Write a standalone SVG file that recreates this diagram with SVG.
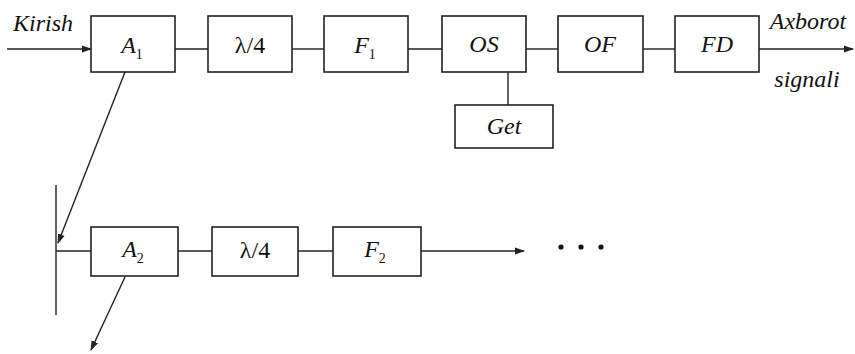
<svg xmlns="http://www.w3.org/2000/svg" width="855" height="354" viewBox="0 0 855 354">
<style>
.b{fill:none;stroke:#222;stroke-width:1.6}
.l{fill:none;stroke:#222;stroke-width:1.4}
text{font-family:'Liberation Serif','Times New Roman',serif;font-style:italic;font-size:24px;fill:#111;text-anchor:middle}
.u{font-style:normal}
.s{font-size:14px;font-style:normal}
</style>
<defs>
<marker id="ar" markerWidth="10" markerHeight="8" refX="9" refY="4" orient="auto" markerUnits="userSpaceOnUse">
<path d="M0,0.5 L10,4 L0,7.5 Z" fill="#222"/>
</marker>
</defs>
<rect width="855" height="354" fill="#fff"/>
<g id="connectors">
<line class="l" x1="7" y1="49" x2="91" y2="49" marker-end="url(#ar)"/>
<line class="l" x1="175" y1="49" x2="208" y2="49"/>
<line class="l" x1="292" y1="49" x2="324" y2="49"/>
<line class="l" x1="408" y1="49" x2="442" y2="49"/>
<line class="l" x1="526" y1="49" x2="558" y2="49"/>
<line class="l" x1="643" y1="49" x2="675" y2="49"/>
<line class="l" x1="759" y1="49" x2="853" y2="49" marker-end="url(#ar)"/>
<line class="l" x1="508" y1="72" x2="508" y2="105"/>
<line class="l" x1="125" y1="72" x2="58" y2="243" marker-end="url(#ar)"/>
<line class="l" x1="56" y1="185" x2="56" y2="315"/>
<line class="l" x1="56" y1="251" x2="91" y2="251"/>
<line class="l" x1="178" y1="251" x2="212" y2="251"/>
<line class="l" x1="298" y1="251" x2="333" y2="251"/>
<line class="l" x1="421" y1="251" x2="524" y2="251" marker-end="url(#ar)"/>
<line class="l" x1="125" y1="277" x2="91" y2="350" marker-end="url(#ar)"/>
</g>
<g id="kirish"><text x="43" y="31">Kirish</text></g>
<g id="axborot"><text x="808" y="29">Axborot</text><text x="807" y="87">signali</text></g>
<g id="A1"><rect class="b" x="91" y="16" width="84" height="56"/><text x="132" y="53">A<tspan class="s" dy="6">1</tspan></text></g>
<g id="L1"><rect class="b" x="208" y="16" width="84" height="56"/><text class="u" x="250" y="53">λ/4</text></g>
<g id="F1"><rect class="b" x="324" y="16" width="84" height="56"/><text x="365" y="53">F<tspan class="s" dy="6">1</tspan></text></g>
<g id="OS"><rect class="b" x="442" y="16" width="84" height="56"/><text x="484" y="52">OS</text></g>
<g id="OF"><rect class="b" x="558" y="16" width="85" height="56"/><text x="600" y="52">OF</text></g>
<g id="FD"><rect class="b" x="675" y="16" width="84" height="56"/><text x="717" y="52">FD</text></g>
<g id="Get"><rect class="b" x="455" y="105" width="98" height="43"/><text x="504" y="134">Get</text></g>
<g id="A2"><rect class="b" x="91" y="227" width="87" height="49"/><text x="133" y="257">A<tspan class="s" dy="6">2</tspan></text></g>
<g id="L2"><rect class="b" x="212" y="227" width="86" height="49"/><text class="u" x="255" y="258">λ/4</text></g>
<g id="F2"><rect class="b" x="333" y="227" width="88" height="49"/><text x="375" y="257">F<tspan class="s" dy="6">2</tspan></text></g>
<g id="dots" fill="#111"><circle cx="561" cy="247" r="2.6"/><circle cx="581" cy="247" r="2.6"/><circle cx="601" cy="247" r="2.6"/></g>
</svg>
